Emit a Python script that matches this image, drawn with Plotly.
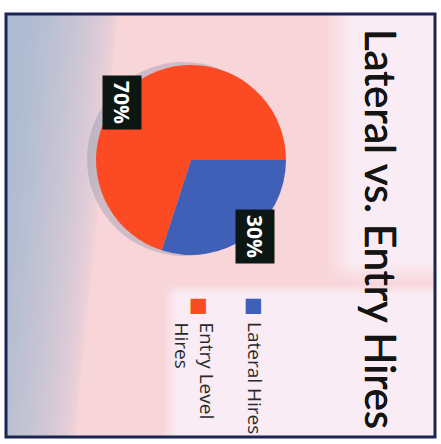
import base64
import struct
import zlib

import numpy as np
import plotly.graph_objects as go

# Hiring mix, in percent
categories = ["Lateral Hires", "Entry Level<br>Hires"]
shares = [30, 70]
slice_colors = ["#3f60b6", "#fc4a22"]
title_text = "Lateral vs. Entry Hires"

W, H = 441, 444


def png_data_uri(rgb):
    """Encode an HxWx3 uint8 array as a PNG data URI."""
    h, w, _ = rgb.shape
    raw = b"".join(b"\x00" + rgb[r].tobytes() for r in range(h))

    def chunk(tag, data):
        c = struct.pack(">I", len(data)) + tag + data
        return c + struct.pack(">I", zlib.crc32(tag + data) & 0xFFFFFFFF)

    png = b"\x89PNG\r\n\x1a\n"
    png += chunk(b"IHDR", struct.pack(">IIBBBBB", w, h, 8, 2, 0, 0, 0))
    png += chunk(b"IDAT", zlib.compress(raw, 9))
    png += chunk(b"IEND", b"")
    return "data:image/png;base64," + base64.b64encode(png).decode()


# Paper backdrop: grey-blue wash on the left, pink middle, pale right side
yy, xx = np.mgrid[0:H, 0:W].astype(float)
pink = np.array([248, 213, 217], float)
grey = np.array([174, 188, 210], float)
pale = np.array([250, 236, 244], float)
edge = 115 - 0.1 * yy
w_left = np.clip((edge - xx) / 95, 0, 1) ** 0.6
w_right = np.clip((xx - 325) / 30, 0, 1) * np.clip((285 - yy) / 25, 0, 1)
w_leg = np.clip((xx - 160) / 15, 0, 1) * np.clip((yy - 282) / 12, 0, 1)
w_pale = np.maximum(w_right, w_leg)
bg = pink * (1 - w_left[..., None]) + grey * w_left[..., None]
bg = bg * (1 - w_pale[..., None]) + pale * w_pale[..., None]
bg_uri = png_data_uri(np.clip(bg, 0, 255).astype(np.uint8))

# Pie placement in pixels
cx, cy, r = 191, 160, 95


def px_x(v):
    return v / W


def px_y(v):
    return 1 - v / H


fig = go.Figure()

# Soft drop shadow under the pie
fig.add_trace(go.Pie(
    labels=categories, values=shares, sort=False, direction="clockwise",
    rotation=90, textinfo="none", hoverinfo="skip", showlegend=False,
    marker=dict(colors=["rgba(130,140,160,0.35)"] * len(shares)),
    domain=dict(x=[px_x(cx - r - 9), px_x(cx + r - 5)],
                y=[px_y(cy + r + 2), px_y(cy - r - 4)]),
))

fig.add_trace(go.Pie(
    labels=categories, values=shares, sort=False, direction="clockwise",
    rotation=90, textinfo="none", showlegend=False,
    marker=dict(colors=slice_colors),
    domain=dict(x=[px_x(cx - r), px_x(cx + r)], y=[px_y(cy + r), px_y(cy - r)]),
))

annotations = []

# Percentage tags, rotated with the page
tag_pos = [(255, 236), (122, 102)]
for v, (tx, ty) in zip(shares, tag_pos):
    annotations.append(dict(
        x=px_x(tx), y=px_y(ty), xref="paper", yref="paper",
        text=f"<b>{v}%</b>", textangle=90, showarrow=False,
        font=dict(family="Open Sans", size=21, color="white"),
        bgcolor="#0c1714", borderpad=5,
        xanchor="center", yanchor="middle",
    ))

# Legend swatches and labels
leg_x = [255, 200]
for name, col, lx in zip(categories, slice_colors, leg_x):
    annotations.append(dict(
        x=px_x(lx), y=px_y(306), xref="paper", yref="paper",
        text="■", textangle=90, showarrow=False,
        font=dict(family="DejaVu Sans", size=20, color=col),
        xanchor="center", yanchor="middle",
    ))
    annotations.append(dict(
        x=px_x(lx + (0 if "<br>" not in name else -6)), y=px_y(320),
        xref="paper", yref="paper",
        text=name, textangle=90, showarrow=False, align="left",
        font=dict(family="Open Sans", size=19, color="#2a2a2a"),
        xanchor="center", yanchor="top",
    ))

# Title running down the right edge
annotations.append(dict(
    x=px_x(381), y=px_y(229), xref="paper", yref="paper",
    text=title_text, textangle=90, showarrow=False,
    font=dict(family="Lato", size=42, color="#141414",
              shadow="0.35px 0 0 #141414, -0.35px 0 0 #141414"),
    xanchor="center", yanchor="middle",
))

fig.update_layout(
    width=W, height=H,
    margin=dict(l=0, r=0, t=0, b=0),
    paper_bgcolor="white",
    plot_bgcolor="white",
    showlegend=False,
    images=[dict(source=bg_uri, xref="paper", yref="paper", x=px_x(6), y=px_y(14),
                 sizex=px_x(435) - px_x(6), sizey=px_y(14) - px_y(437),
                 sizing="stretch", layer="below", xanchor="left", yanchor="top")],
    shapes=[dict(type="rect", xref="paper", yref="paper",
                 x0=px_x(6), x1=px_x(435), y0=px_y(437), y1=px_y(14),
                 line=dict(color="#1b2452", width=3), layer="above")],
    annotations=annotations,
)

fig.write_html("out.html")
